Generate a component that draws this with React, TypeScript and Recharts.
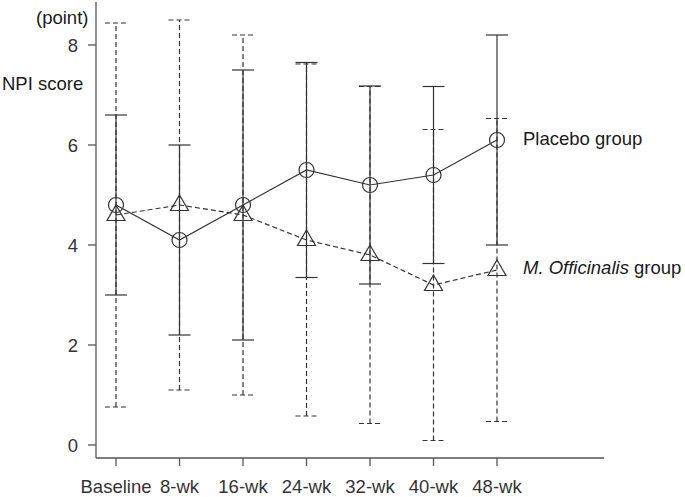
import { LineChart, Line, XAxis, YAxis, ErrorBar } from 'recharts';

const categories = ['Baseline', '8-wk', '16-wk', '24-wk', '32-wk', '40-wk', '48-wk'];
const placeboMean = [4.8, 4.1, 4.8, 5.5, 5.2, 5.4, 6.1];
const placeboSd = [1.8, 1.9, 2.7, 2.15, 1.98, 1.77, 2.1];
const officinalisMean = [4.6, 4.8, 4.6, 4.1, 3.8, 3.2, 3.5];
const officinalisSd = [3.84, 3.7, 3.6, 3.52, 3.37, 3.11, 3.03];
const yTicks = [0, 2, 4, 6, 8];

const LINE = '#333';
const BOX = '#555';
const FONT = '"Liberation Sans", Arial, sans-serif';
const FS = 18.5;

const chartData = categories.map((c, i) => ({
  x: i,
  name: c,
  placebo: placeboMean[i],
  pErr: placeboSd[i],
  officinalis: officinalisMean[i],
  oErr: officinalisSd[i],
}));

const xDomain = [-0.315, 7.685];
const yDomain = [-0.26, 8.86];

function CircleDot(props: any) {
  const { cx, cy, index } = props;
  return <circle key={`c${index}`} cx={cx} cy={cy} r={7.5} fill="none" stroke={LINE} strokeWidth={1.2} />;
}

function TriangleDot(props: any) {
  const { cx, cy, index } = props;
  const d = `M${cx},${cy - 10} L${cx + 9},${cy + 5.5} L${cx - 9},${cy + 5.5} Z`;
  return <path key={`t${index}`} d={d} fill="none" stroke={LINE} strokeWidth={1.2} />;
}

const tickStyle = { fontSize: FS, fill: '#333', fontFamily: FONT };
const textStyle = { position: 'absolute' as const, fontSize: FS, lineHeight: '22px', color: '#1a1a1a', whiteSpace: 'nowrap' as const };

export default function App() {
  return (
    <div style={{ position: 'absolute', left: 0, top: 0, width: 685, height: 497, fontFamily: FONT }}>
      <LineChart width={685} height={497} data={chartData} margin={{ top: 2, right: 81, left: 36, bottom: 9 }}>
        <XAxis
          dataKey="x"
          type="number"
          domain={xDomain}
          allowDataOverflow
          ticks={[0, 1, 2, 3, 4, 5, 6]}
          interval={0}
          tickFormatter={(v) => categories[v]}
          tick={tickStyle}
          tickSize={8}
          tickMargin={14}
          height={30}
          stroke={BOX}
          strokeWidth={1.3}
        />
        <XAxis
          xAxisId="top"
          orientation="top"
          type="number"
          domain={xDomain}
          allowDataOverflow
          tick={false}
          tickLine={false}
          height={0}
          stroke={BOX}
          strokeWidth={1.3}
        />
        <YAxis
          type="number"
          domain={yDomain}
          allowDataOverflow
          ticks={yTicks}
          interval={0}
          tick={tickStyle}
          tickSize={8}
          tickMargin={10}
          width={60}
          stroke={BOX}
          strokeWidth={1.3}
        />
        <YAxis
          yAxisId="right"
          orientation="right"
          type="number"
          domain={yDomain}
          allowDataOverflow
          tick={false}
          tickLine={false}
          width={0}
          stroke={BOX}
          strokeWidth={1.3}
        />
        <Line
          dataKey="officinalis"
          stroke={LINE}
          strokeWidth={1.2}
          strokeDasharray="5 3"
          dot={TriangleDot}
          activeDot={false}
          isAnimationActive={false}
        >
          <ErrorBar dataKey="oErr" width={11} stroke={LINE} strokeWidth={1.2} strokeDasharray="5 3" />
        </Line>
        <Line
          dataKey="placebo"
          stroke={LINE}
          strokeWidth={1.2}
          dot={CircleDot}
          activeDot={false}
          isAnimationActive={false}
        >
          <ErrorBar dataKey="pErr" width={11} stroke={LINE} strokeWidth={1.2} />
        </Line>
      </LineChart>
      <div style={{ ...textStyle, left: 36, top: 7 }}>(point)</div>
      <div style={{ ...textStyle, left: 2, top: 73 }}>NPI score</div>
      <div style={{ ...textStyle, left: 523, top: 128 }}>Placebo group</div>
      <div style={{ ...textStyle, left: 523, top: 257 }}>
        <i>M. Officinalis</i> group
      </div>
    </div>
  );
}
